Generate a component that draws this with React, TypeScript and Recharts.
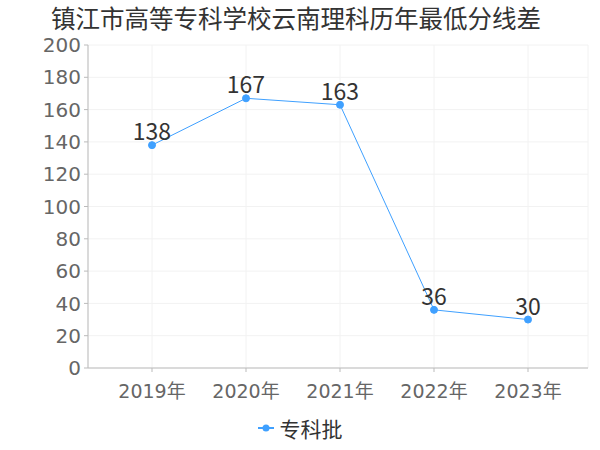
import React from "react";
import { LineChart, Line, XAxis, YAxis, CartesianGrid, Legend, LabelList } from "recharts";

const years = ["2019年", "2020年", "2021年", "2022年", "2023年"];
const values = [138, 167, 163, 36, 30];
const yTicks = [0, 20, 40, 60, 80, 100, 120, 140, 160, 180, 200];
const seriesName = "专科批";
const title = "镇江市高等专科学校云南理科历年最低分线差";

const data = years.map((y, i) => ({ year: y, v: values[i] }));

const font = "'DejaVu Sans', 'Noto Sans CJK SC', sans-serif";
const cjk = "'Noto Sans CJK SC', sans-serif";
const color = "#3fa0ff";

const LegendContent = (props: any) => {
  const items = props.payload || [];
  return (
    <div style={{ display: "flex", justifyContent: "center", alignItems: "center" }}>
      {items.map((it: any) => (
        <div key={it.value} style={{ display: "flex", alignItems: "center" }}>
          <svg width={16} height={10} style={{ marginRight: 6 }}>
            <line x1={0} y1={5} x2={16} y2={5} stroke={color} strokeWidth={2} />
            <circle cx={8} cy={5} r={3.5} fill={color} />
          </svg>
          <span style={{ fontSize: 21, color: "#333", fontFamily: cjk, lineHeight: "24px" }}>{it.value}</span>
        </div>
      ))}
    </div>
  );
};

export default function App() {
  return (
    <div style={{ position: "absolute", left: 0, top: 0, width: 600, height: 450, background: "#fff", fontFamily: font }}>
      <div style={{ position: "absolute", left: 0, top: 4, width: 592, height: 28, lineHeight: "28px", textAlign: "center", fontSize: 24.5, color: "#333", fontFamily: cjk, zIndex: 2 }}>
        {title}
      </div>
      <LineChart width={600} height={450} data={data} margin={{ top: 45, right: 12, bottom: 12, left: 0 }}>
        <CartesianGrid stroke="#f2f2f2" vertical={true} />
        <XAxis
          dataKey="year"
          padding={{ left: 64, right: 60 }}
          tick={{ fill: "#666", fontSize: 19, fontFamily: font }}
          tickLine={{ stroke: "#bbb" }}
          axisLine={{ stroke: "#bbb" }}
          tickSize={4}
          tickMargin={13}
          height={40}
        />
        <YAxis
          domain={[0, 200]}
          ticks={yTicks}
          width={88}
          interval={0}
          tick={{ fill: "#666", fontSize: 20, fontFamily: font }}
          tickLine={{ stroke: "#bbb" }}
          axisLine={{ stroke: "#bbb" }}
          tickSize={4}
          tickMargin={3}
        />
        <Legend
          verticalAlign="bottom"
          content={<LegendContent />}
          wrapperStyle={{ bottom: 4, left: 0, width: 600, height: 30 }}
        />
        <Line
          name={seriesName}
          dataKey="v"
          stroke={color}
          strokeWidth={1}
          dot={{ r: 3.5, fill: color, stroke: color }}
          isAnimationActive={false}
        >
          <LabelList dataKey="v" position="top" offset={5} style={{ fill: "#333", fontSize: 23, fontFamily: cjk }} />
        </Line>
      </LineChart>
    </div>
  );
}
